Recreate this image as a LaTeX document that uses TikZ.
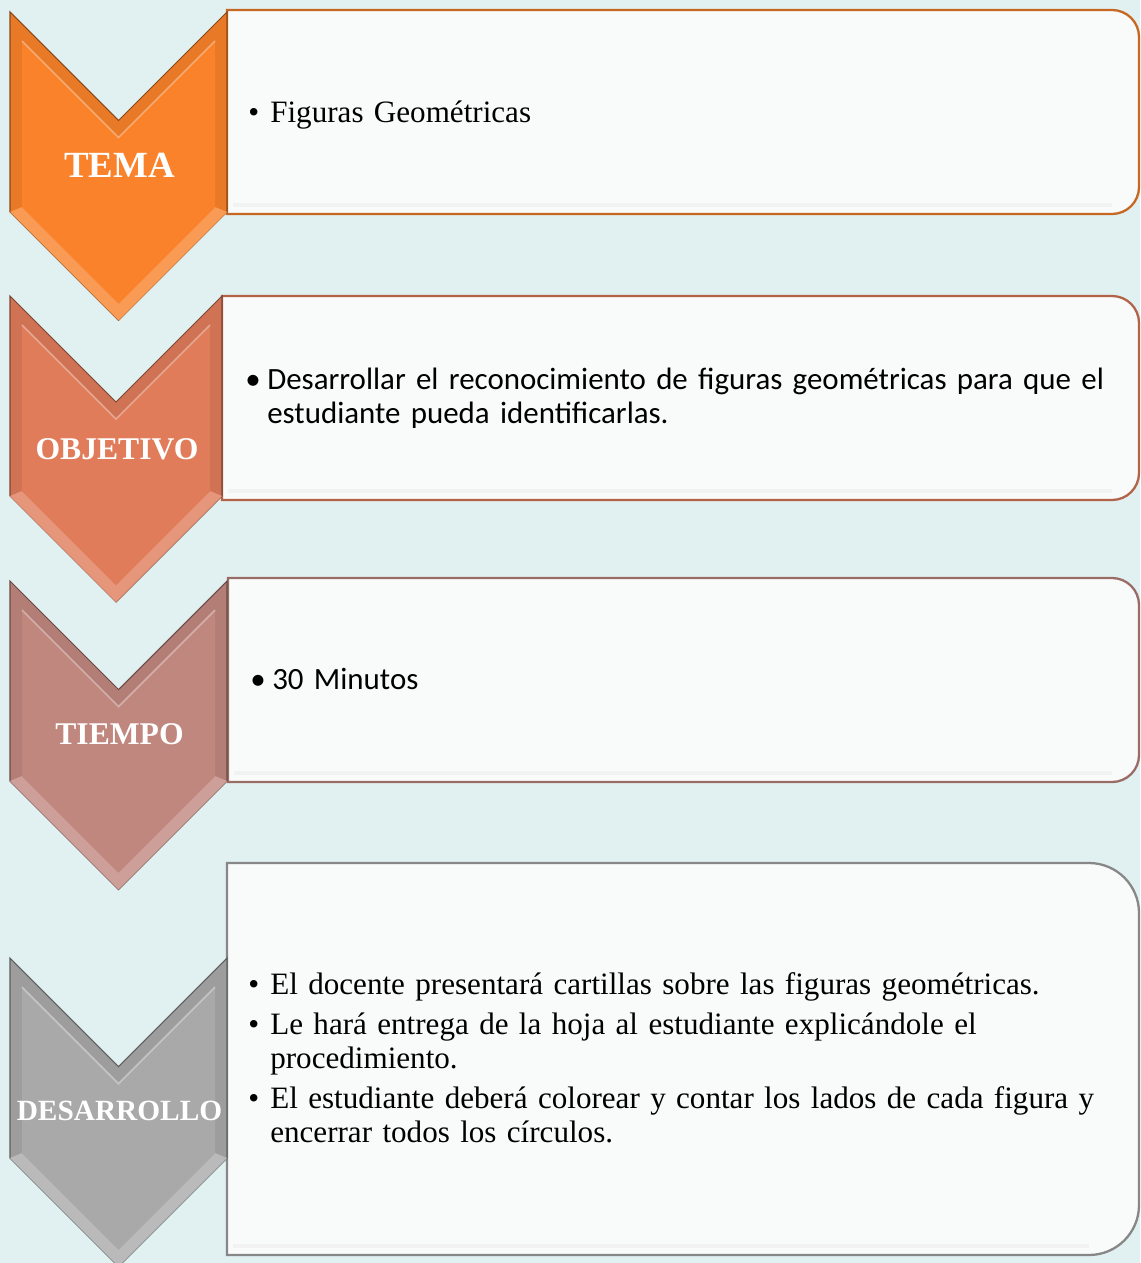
\documentclass[tikz,border=0pt]{standalone}
\usepackage{fontspec}
\setmainfont{Liberation Serif}
\newfontfamily\calibri{Carlito}
\usepackage{tikz}
\usetikzlibrary{positioning}

\definecolor{fondo}{HTML}{E1F0F1}
\definecolor{cajafondo}{HTML}{F9FBFB}
\definecolor{naranja}{HTML}{F9822A}
\definecolor{coral}{HTML}{E07C5A}
\definecolor{rosa}{HTML}{C0877F}
\definecolor{gris}{HTML}{A9A9A9}

% vineta con sangria francesa
\newcommand{\vineta}[1]{\par\hangindent=12.5pt\hangafter=1\noindent\makebox[12.5pt][l]{\textbullet}#1\par}
% salto de linea dentro de la vineta
\newcommand{\salto}{\hfil\break}

\begin{document}
\begin{tikzpicture}[
        x=0.02cm, y=-0.02cm,
        % Estilo de las cajas de texto
        caja/.style={
            draw=#1,
            line width=1.3pt,
            fill=cajafondo
        },
        % Estilo para la etiqueta dentro de cada flecha
        etiqueta/.style={
            text=white,
            inner sep=0pt
        },
        % Estilo para los textos de las cajas
        texto/.style={
            anchor=west,
            inner sep=0pt,
            text width=17.8cm,
            align=left,
            font=\fontsize{17.7}{19.3}\selectfont\setlength{\parskip}{3.4pt}
        }
    ]

        % Fondo y margenes
        \fill[fondo] (0,0) rectangle (1140,1263);
        \useasboundingbox (0,0) rectangle (1140,1263);

        % --- CAJAS ---
        \foreach \ytop/\ybot/\xl/\rad/\col in {10/214/227/27/naranja, 296/500/222/27/coral, 578/782/228/27/rosa, 863/1255/227/50/gris}{
            \filldraw[caja=\col!80!black] (\xl,\ytop) -- ({1139-\rad},\ytop)
                arc[start angle=-90, end angle=0, radius=\rad] -- (1139,{\ybot-\rad})
                arc[start angle=0, end angle=90, radius=\rad] -- (\xl,\ybot) -- cycle;
            \draw[black!5, line width=2pt] ({\xl+6},{\ybot-9}) -- ({1139-\rad},{\ybot-9});
        }

        % --- FLECHAS ---
        \foreach \ytop/\xr/\col/\lbl/\tam in {12/227/naranja/TEMA/21, 296/222/coral/OBJETIVO/18, 581/227/rosa/TIEMPO/18, 958/227/gris/DESARROLLO/16.7}{
            \pgfmathsetmacro{\xm}{(10+\xr)/2}
            \pgfmathsetmacro{\hh}{(\xr-10)/2}
            \filldraw[fill=\col!93!black, draw=\col!55!black, line width=0.6pt]
                (10,\ytop) -- (\xm,{\ytop+\hh}) -- (\xr,\ytop) -- (\xr,{\ytop+200})
                -- (\xm,{\ytop+200+\hh}) -- (10,{\ytop+200}) -- cycle;
            \fill[\col!80!white] (10,{\ytop+200}) -- (\xm,{\ytop+200+\hh}) -- (\xr,{\ytop+200})
                -- ({\xr-12},{\ytop+195}) -- (\xm,{\ytop+183+\hh}) -- (22,{\ytop+195}) -- cycle;
            \fill[\col] (22,{\ytop+29}) -- (\xm,{\ytop+\hh+17}) -- ({\xr-12},{\ytop+29})
                -- ({\xr-12},{\ytop+195}) -- (\xm,{\ytop+183+\hh}) -- (22,{\ytop+195}) -- cycle;
            \draw[white, opacity=0.35, line width=1pt] (22,{\ytop+29}) -- (\xm,{\ytop+\hh+17}) -- ({\xr-12},{\ytop+29});
            \node[etiqueta, font=\bfseries\fontsize{\tam}{\tam}\selectfont] (lbl\lbl) at ({\xm+1},{\ytop+153}) {\lbl};
        }

        % --- TEXTOS ---
        \node[texto] (txtTema) at (248,106) {\vineta{Figuras Geométricas}};

        \node[texto, font=\calibri\fontsize{17.6}{19.3}\selectfont] (txtObjetivo) at (245,392)
            {\vineta{Desarrollar el reconocimiento de figuras geométricas para que el\salto estudiante pueda identificarlas.}};

        \node[texto, font=\calibri\fontsize{17.6}{19.3}\selectfont] (txtTiempo) at (250,673) {\vineta{30 Minutos}};

        \node[texto] (txtDesarrollo) at (248,1049)
            {\vineta{El docente presentará cartillas sobre las figuras geométricas.}%
             \vineta{Le hará entrega de la hoja al estudiante explicándole el\salto procedimiento.}%
             \vineta{El estudiante deberá colorear y contar los lados de cada figura y\salto encerrar todos los círculos.}};

    \end{tikzpicture}
\end{document}
